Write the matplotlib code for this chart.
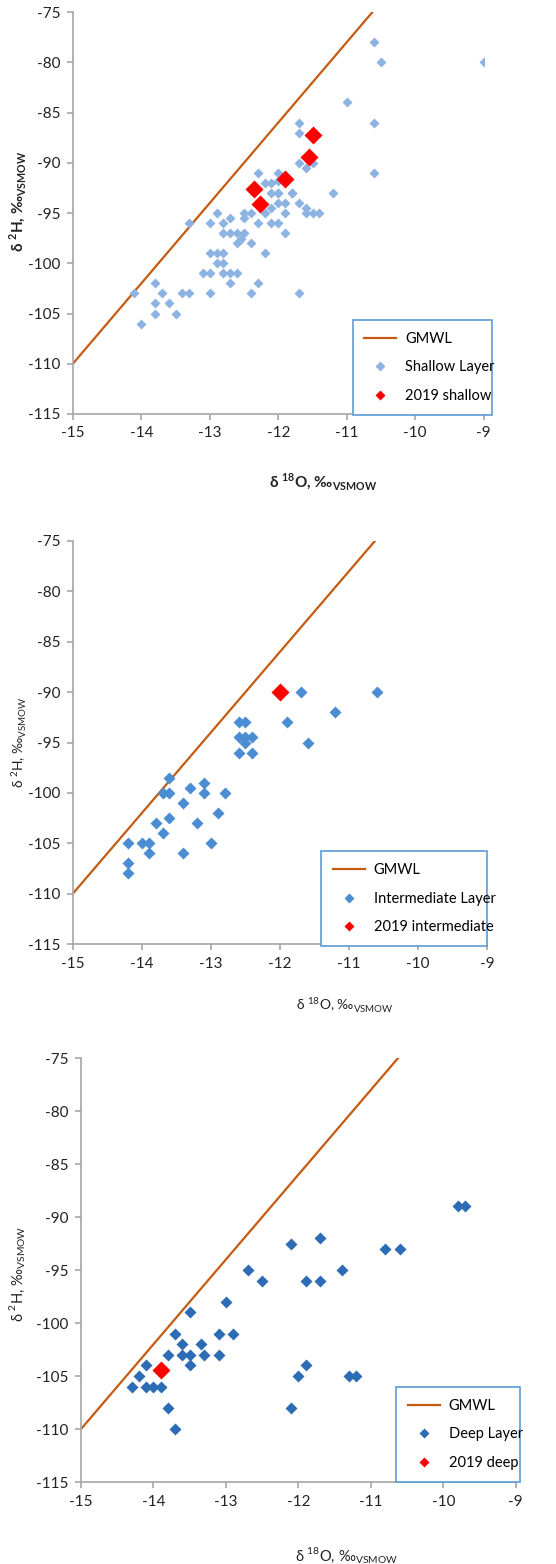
import numpy as np
import matplotlib
matplotlib.use("Agg")
import matplotlib.pyplot as plt

plt.rcParams['font.family'] = ['Lato', 'DejaVu Sans']
plt.rcParams['axes.unicode_minus'] = False

# shallow layer, d18O / d2H
shallow_o = [-10.6, -10.5, -9.0, -11.0, -10.6, -11.7, -11.7, -11.7, -11.6, -11.5,
             -10.6, -12.3, -12.2, -12.0, -12.0, -11.2, -11.8, -12.1, -12.0,
             -12.1, -12.0, -11.8, -12.1, -12.0, -11.9, -11.7, -11.6, -11.6, -11.5,
             -11.4, -11.9, -12.2, -12.4, -12.5, -12.9, -12.7, -12.5, -13.3, -13.0,
             -12.8, -12.3, -12.1, -12.0, -11.9, -12.8, -12.7, -12.6, -12.5, -12.55,
             -12.6, -12.4, -12.2, -13.0, -12.9, -12.8, -12.9, -12.8, -13.1, -13.0,
             -12.8, -12.7, -12.6, -12.7, -12.3, -14.1, -13.7, -13.4, -13.3, -13.0,
             -12.4, -11.7, -13.8, -13.8, -13.6, -13.8, -13.5, -14.0]
shallow_h = [-78, -80, -80, -84, -86, -86, -87, -90, -90.5, -90,
             -91, -91, -92, -91, -91.8, -93, -93, -93, -93,
             -92, -93, -93, -94.5, -94, -94, -94, -94.5, -95, -95,
             -95, -95, -95, -95, -95, -95, -95.5, -95.5, -96, -96,
             -96, -96, -96, -96, -97, -97, -97, -97, -97, -97.6,
             -98, -98, -99, -99, -99, -99, -100, -100, -101, -101,
             -101, -101, -101, -102, -102, -103, -103, -103, -103, -103,
             -103, -103, -102, -104, -104, -105, -105, -106]
shallow19_o = [-11.5, -11.55, -11.9, -12.35, -12.27]
shallow19_h = [-87.2, -89.4, -91.6, -92.6, -94.1]

# intermediate layer
inter_o = [-11.7, -10.6, -11.2, -11.9, -12.6, -12.5, -12.6, -12.5, -12.4, -12.5,
           -11.6, -12.6, -12.4, -13.6, -13.7, -13.6, -13.3, -13.1, -13.1, -12.8,
           -13.4, -13.6, -12.9, -13.8, -13.2, -13.7, -14.2, -14.0, -13.9, -13.0,
           -13.9, -13.4, -14.2, -14.2]
inter_h = [-90, -90, -92, -93, -93, -93, -94.5, -94.5, -94.5, -95,
           -95, -96, -96, -98.5, -100, -100, -99.5, -99, -100, -100,
           -101, -102.5, -102, -103, -103, -104, -105, -105, -105, -105,
           -106, -106, -107, -108]
inter19_o = [-12.0]
inter19_h = [-90.0]

# deep layer
deep_o = [-9.8, -9.7, -10.8, -10.6, -11.7, -12.1, -12.7, -12.5, -11.9, -11.7,
          -11.4, -13.0, -13.5, -13.7, -13.1, -12.9, -13.6, -13.35, -13.8, -13.6,
          -13.5, -13.3, -13.1, -14.1, -13.5, -11.9, -14.2, -12.0, -11.3, -11.2,
          -14.3, -14.1, -14.0, -13.9, -13.8, -12.1, -13.7]
deep_h = [-89, -89, -93, -93, -92, -92.5, -95, -96, -96, -96,
          -95, -98, -99, -101, -101, -101, -102, -102, -103, -103,
          -103, -103, -103, -104, -104, -104, -105, -105, -105, -105,
          -106, -106, -106, -106, -108, -108, -110]
deep19_o = [-13.9]
deep19_h = [-104.4]

# global meteoric water line: d2H = 8 * d18O + 10
gmwl_o = np.array([-15.0, -10.625])
gmwl_h = 8 * gmwl_o + 10

panels = [
    dict(rect=[0.131, 0.7353, 0.739, 0.257], o=shallow_o, h=shallow_h,
         o19=shallow19_o, h19=shallow19_h, name='Shallow Layer',
         name19='2019 shallow', color='#8DB3E2', ms=5.0, ms19=9.0,
         leg=(0.681, 0.005, 0.34, 0.222), xlab=(0.61, -0.142),
         ylab=(-0.109, 0.53), weight='bold', lsize=11),
    dict(rect=[0.131, 0.3964, 0.745, 0.2577], o=inter_o, h=inter_h,
         o19=inter19_o, h19=inter19_h, name='Intermediate Layer',
         name19='2019 intermediate', color='#4A8DD3', ms=6.0, ms19=9.0,
         leg=(0.60, 0.0, 0.40, 0.225), xlab=(0.657, -0.127),
         ylab=(-0.109, 0.5), weight='normal', lsize=10),
    dict(rect=[0.1457, 0.0524, 0.782, 0.2711], o=deep_o, h=deep_h,
         o19=deep19_o, h19=deep19_h, name='Deep Layer', name19='2019 deep',
         color='#2B6CB5', ms=6.5, ms19=9.5,
         leg=(0.725, 0.0, 0.285, 0.225), xlab=(0.61, -0.151),
         ylab=(-0.122, 0.49), weight='normal', lsize=10.5),
]

fig = plt.figure(figsize=(5.56, 15.64), dpi=100)
axis_grey = '#A6A6A6'

for p in panels:
    ax = fig.add_axes(p['rect'])
    ax.plot(gmwl_o, gmwl_h, color='#C55A11', lw=1.6, label='GMWL', zorder=2)
    ax.plot(p['o'], p['h'], 'D', ms=p['ms'], color=p['color'], mec='none',
            label=p['name'], zorder=3)
    ax.plot(p['o19'], p['h19'], 'D', ms=p['ms19'], color='#FF0000', mec='none',
            label=p['name19'], zorder=4)

    ax.set_xlim(-15, -9)
    ax.set_ylim(-115, -75)
    ax.set_xticks(np.arange(-15, -8, 1))
    ax.set_yticks(np.arange(-115, -74, 5))
    for s in ['top', 'right']:
        ax.spines[s].set_visible(False)
    for s in ['left', 'bottom']:
        ax.spines[s].set_color(axis_grey)
        ax.spines[s].set_linewidth(1.2)
    ax.tick_params(direction='out', length=4, color=axis_grey, width=1.2,
                   labelsize=11, labelcolor='#222222', pad=5)

    ax.set_xlabel(r'δ $^{\mathregular{18}}$O, ‰$_{\mathregular{VSMOW}}$',
                  fontsize=p['lsize'], fontweight=p['weight'], color='#222222')
    ax.xaxis.set_label_coords(*p['xlab'])
    ax.set_ylabel(r'δ $^{\mathregular{2}}$H, ‰$_{\mathregular{VSMOW}}$',
                  fontsize=p['lsize'], fontweight=p['weight'], color='#222222')
    ax.yaxis.set_label_coords(*p['ylab'])

    leg = ax.legend(loc='center', bbox_to_anchor=p['leg'], mode='expand',
                    fancybox=False, fontsize=10.5, handlelength=2.2,
                    labelspacing=1.0, borderpad=0.8, handletextpad=0.6,
                    framealpha=1, borderaxespad=0)
    leg.get_frame().set_edgecolor('#5B9BD5')
    leg.get_frame().set_linewidth(1.2)
    for h in leg.legend_handles[1:]:
        h.set_markersize(5.5)

fig.savefig('out.png', dpi=100, facecolor='white')
